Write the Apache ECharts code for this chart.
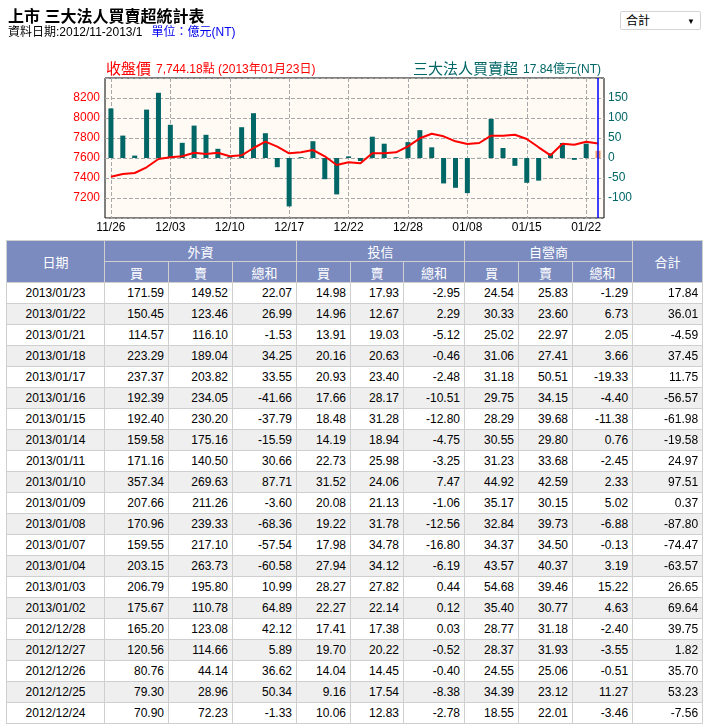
<!DOCTYPE html>
<html>
<head>
<meta charset="utf-8">
<script src="https://cdn.jsdelivr.net/npm/echarts@6/dist/echarts.min.js"></script>
<style>
  html, body { margin:0; padding:0; background:#fff; width:709px; height:724px; overflow:hidden;
    font-family: 'Liberation Sans', 'Noto Sans CJK TC', sans-serif; }
  #chart { position:absolute; left:0; top:0; width:709px; height:238px; }
  #title { position:absolute; left:8px; top:3px; font-size:16px; font-weight:bold; color:#000; white-space:nowrap; }
  #sub { position:absolute; left:8px; top:22px; font-size:12px; color:#000; white-space:nowrap; }
  #sub span { color:#0000ee; margin-left:9px; }
  #sel { position:absolute; left:620px; top:11px; width:81px; height:19px; border:1px solid #d4d4d4; border-radius:2px;
    font-size:12px; line-height:19px; box-sizing:border-box; padding-left:5px; color:#000; background:#fff; }
  #sel b { position:absolute; right:5px; top:0; font-size:8px; font-weight:normal; }
  #tbl { position:absolute; left:6px; top:240px; border-collapse:collapse; table-layout:fixed; width:696px; }
  #tbl td, #tbl th { border:1px solid #cfcfcf; height:20px; padding:0 4px 0 0; font-size:12px; font-weight:normal;
    white-space:nowrap; overflow:hidden; }
  #tbl th { background:#7b8bbf; color:#fff; text-align:center; padding:0; font-size:13px; }
  #tbl td { text-align:right; color:#000; }
  #tbl td.d { text-align:center; padding:0; }
  #tbl tr.alt td { background:#efefef; }
</style>
</head>
<body>
<div id="chart"></div>
<div id="title">上市 三大法人買賣超統計表</div>
<div id="sub">資料日期:2012/11-2013/1<span>單位：億元(NT)</span></div>
<div id="sel">合計<b>▼</b></div>
<table id="tbl"></table>
<script>
// ---- chart data ----
const dates = ['11/26','11/27','11/28','11/29','11/30','12/03','12/04','12/05','12/06','12/07',
  '12/10','12/11','12/12','12/13','12/14','12/17','12/18','12/19','12/20','12/21',
  '12/22','12/24','12/25','12/26','12/27','12/28','01/02','01/03','01/04','01/07',
  '01/08','01/09','01/10','01/11','01/14','01/15','01/16','01/17','01/18','01/21',
  '01/22','01/23'];
const netBuy = [124,56,6,121,163,83,38,81,58,23,
  2,77,112,62,-23,-121,2,42,-53,-91,
  4,-7.56,53.23,35.70,1.82,39.75,69.64,26.65,-63.57,-74.47,
  -87.80,0.37,97.51,24.97,-19.58,-61.98,-56.57,11.75,37.45,-4.59,
  36.01,17.84];
const closeIdx = [7413,7440,7450,7507,7590,7607,7617,7653,7640,7653,
  7617,7627,7700,7763,7713,7647,7657,7680,7617,7530,
  7557,7547,7647,7647,7657,7717,7797,7843,7817,7767,
  7740,7750,7823,7823,7833,7790,7707,7627,7743,7733,
  7763,7744.18];
const leftTicks = [7000, 8400, 200];
const rightTicks = [-150, 200, 50];

// ---- table data ----
const tDates = ['2013/01/23','2013/01/22','2013/01/21','2013/01/18','2013/01/17','2013/01/16','2013/01/15',
  '2013/01/14','2013/01/11','2013/01/10','2013/01/09','2013/01/08','2013/01/07','2013/01/04','2013/01/03',
  '2013/01/02','2012/12/28','2012/12/27','2012/12/26','2012/12/25','2012/12/24'];
const fBuy  = [171.59,150.45,114.57,223.29,237.37,192.39,192.40,159.58,171.16,357.34,207.66,170.96,159.55,203.15,206.79,175.67,165.20,120.56,80.76,79.30,70.90];
const fSell = [149.52,123.46,116.10,189.04,203.82,234.05,230.20,175.16,140.50,269.63,211.26,239.33,217.10,263.73,195.80,110.78,123.08,114.66,44.14,28.96,72.23];
const fNet  = [22.07,26.99,-1.53,34.25,33.55,-41.66,-37.79,-15.59,30.66,87.71,-3.60,-68.36,-57.54,-60.58,10.99,64.89,42.12,5.89,36.62,50.34,-1.33];
const iBuy  = [14.98,14.96,13.91,20.16,20.93,17.66,18.48,14.19,22.73,31.52,20.08,19.22,17.98,27.94,28.27,22.27,17.41,19.70,14.04,9.16,10.06];
const iSell = [17.93,12.67,19.03,20.63,23.40,28.17,31.28,18.94,25.98,24.06,21.13,31.78,34.78,34.12,27.82,22.14,17.38,20.22,14.45,17.54,12.83];
const iNet  = [-2.95,2.29,-5.12,-0.46,-2.48,-10.51,-12.80,-4.75,-3.25,7.47,-1.06,-12.56,-16.80,-6.19,0.44,0.12,0.03,-0.52,-0.40,-8.38,-2.78];
const dBuy  = [24.54,30.33,25.02,31.06,31.18,29.75,28.29,30.55,31.23,44.92,35.17,32.84,34.37,43.57,54.68,35.40,28.77,28.37,24.55,34.39,18.55];
const dSell = [25.83,23.60,22.97,27.41,50.51,34.15,39.68,29.80,33.68,42.59,30.15,39.73,34.50,40.37,39.46,30.77,31.18,31.93,25.06,23.12,22.01];
const dNet  = [-1.29,6.73,2.05,3.66,-19.33,-4.40,-11.38,0.76,-2.45,2.33,5.02,-6.88,-0.13,3.19,15.22,4.63,-2.40,-3.55,-0.51,11.27,-3.46];
const total = [17.84,36.01,-4.59,37.45,11.75,-56.57,-61.98,-19.58,24.97,97.51,0.37,-87.80,-74.47,-63.57,26.65,69.64,39.75,1.82,35.70,53.23,-7.56];

// ---- build table ----
(function(){
  const widths = [98,64,64,64,54,53,61,54,54,60,70];
  let h = '<colgroup>' + widths.map(w => '<col style="width:' + w + 'px">').join('') + '</colgroup>';
  h += '<tr><th rowspan="2">日期</th><th colspan="3">外資</th><th colspan="3">投信</th><th colspan="3">自營商</th><th rowspan="2">合計</th></tr>';
  h += '<tr>' + ['買','賣','總和','買','賣','總和','買','賣','總和'].map(s => '<th>' + s + '</th>').join('') + '</tr>';
  const cols = [fBuy,fSell,fNet,iBuy,iSell,iNet,dBuy,dSell,dNet,total];
  tDates.forEach((d, i) => {
    h += '<tr' + (i % 2 ? ' class="alt"' : '') + '><td class="d">' + d + '</td>' +
      cols.map(c => '<td>' + c[i].toFixed(2) + '</td>').join('') + '</tr>';
  });
  document.getElementById('tbl').innerHTML = h;
})();

// ---- chart ----
const FF = "'Liberation Sans','Noto Sans CJK TC',sans-serif";
const last = dates.length - 1;
const chart = echarts.init(document.getElementById('chart'), null, {renderer:'canvas'});
chart.setOption({
  animation: false,
  textStyle: { fontFamily: FF },
  title: [
    { left: 106, top: 61, padding: 0,
      text: '{a|收盤價} {b|' + '7,744.18點 (2013年01月23日)' + '}',
      textStyle: { fontWeight: 'normal', rich: {
        a: { fontSize: 15, color: '#ff0000', fontFamily: FF, fontWeight: 'normal' },
        b: { fontSize: 12, color: '#ff0000', fontFamily: FF, fontWeight: 'normal' }
      } } },
    { right: 108, top: 61, padding: 0,
      text: '{a|三大法人買賣超} {b|' + total[0].toFixed(2) + '億元(NT)}',
      textStyle: { fontWeight: 'normal', rich: {
        a: { fontSize: 15, color: '#006666', fontFamily: FF, fontWeight: 'normal' },
        b: { fontSize: 12, color: '#006666', fontFamily: FF, fontWeight: 'normal' }
      } } }
  ],
  grid: { left: 105, top: 78, width: 499, height: 140, show: true,
    backgroundColor: '#fffaf3', borderColor: '#000', borderWidth: 1 },
  xAxis: {
    type: 'category', data: dates, boundaryGap: true,
    axisLine: { show: false }, axisTick: { show: false },
    axisLabel: { interval: 4, color: '#000', fontSize: 12, margin: 4, fontFamily: FF },
    splitLine: { show: true, interval: 4, alignWithLabel: true,
      lineStyle: { color: '#a8a8a8', type: [4, 2], width: 1 } }
  },
  yAxis: [
    { type: 'value', position: 'left', min: leftTicks[0], max: leftTicks[1], interval: leftTicks[2],
      axisLine: { show: false }, axisTick: { show: false },
      axisLabel: { color: '#ff0000', fontSize: 12, margin: 5, showMinLabel: false, showMaxLabel: false,
        fontFamily: FF, formatter: v => String(v) },
      splitLine: { show: true, lineStyle: { color: '#a8a8a8', type: [4, 2], width: 1 } } },
    { type: 'value', position: 'right', min: rightTicks[0], max: rightTicks[1], interval: rightTicks[2],
      axisLine: { show: false }, axisTick: { show: false },
      axisLabel: { color: '#006666', fontSize: 12, margin: 4, showMinLabel: false, showMaxLabel: false,
        fontFamily: FF, formatter: v => String(v) },
      splitLine: { show: false } }
  ],
  series: [
    { type: 'bar', yAxisIndex: 1, data: netBuy, barWidth: 5,
      itemStyle: { color: p => p.dataIndex === last ? '#ee9a5e' : '#006666' },
      markLine: { silent: true, symbol: 'none', label: { show: false },
        lineStyle: { color: '#0000ff', type: 'solid', width: 1.5 },
        data: [{ xAxis: dates[last] }] } },
    { type: 'line', yAxisIndex: 0, data: closeIdx, showSymbol: false, z: 3,
      lineStyle: { color: '#ff0000', width: 2 } }
  ]
});
</script>
</body>
</html>
